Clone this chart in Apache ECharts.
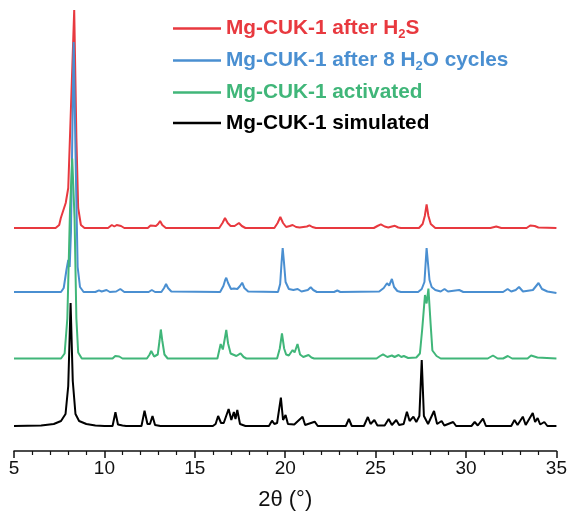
<!DOCTYPE html>
<html>
<head>
<meta charset="utf-8">
<script src="https://cdn.jsdelivr.net/npm/echarts@6/dist/echarts.min.js"></script>
<style>
  html, body { margin: 0; padding: 0; background: #fff; }
  #chart { width: 570px; height: 521px; }
</style>
</head>
<body>
<div id="chart"></div>
<script>
var redH2S = [
  [5,0],[7.3,0],[7.5,3],[7.59,10],[7.7,12],[7.86,25],[8.0,40],[8.15,120],[8.33,218],[8.45,90],[8.55,20],[8.7,3],[8.9,0],
  [10.2,0],[10.41,3],[10.55,1.5],[10.68,3],[10.79,5],[10.92,2],[11.1,0],
  [12.4,0],[12.55,2.5],[12.66,4.5],[12.85,2],[12.97,4],[13.08,7],[13.2,3],[13.4,0],
  [16.35,0],[16.53,5],[16.67,10],[16.82,5],[16.98,2],[17.2,2],[17.44,5],[17.6,2],[17.8,0],
  [19.4,0],[19.58,5],[19.73,11],[19.88,5],[20.05,1],[20.25,2],[20.41,3],[20.6,1],[20.8,0.5],[21.2,1.5],[21.34,2.7],[21.5,1],[21.7,0],
  [24.9,0],[25.1,2],[25.29,3.7],[25.5,1.5],[25.7,0.5],[25.9,1.5],[26.07,2.2],[26.25,0.5],[26.4,0],
  [27.4,0],[27.6,4],[27.72,12],[27.82,23.7],[27.92,12],[28.05,4],[28.3,0],
  [31.35,0],[31.67,1.5],[31.95,0],[33.35,0],[33.55,2.5],[33.65,3.2],[33.8,2],[34.0,0.5],[35,0]
];
var blueH2O = [
  [5,0],[7.6,0],[7.75,4],[7.9,22],[8.0,32],[8.08,25],[8.15,60],[8.3,250],[8.42,120],[8.52,25],[8.65,5],[8.85,0],
  [9.5,0],[9.7,1.7],[9.85,0.5],[10.12,2],[10.3,0],[10.65,0.5],[10.88,3],[11.1,0],
  [12.45,0],[12.62,2],[12.8,0],[13.15,0],[13.3,4],[13.41,8],[13.52,4],[13.7,0.5],
  [16.4,0],[16.58,6],[16.68,12],[16.74,14.3],[16.84,9],[17.0,3],[17.16,3.5],[17.35,3],[17.5,6],[17.62,9.3],[17.74,4],[17.95,0.5],
  [19.6,0],[19.72,8],[19.8,30],[19.86,44],[19.93,30],[20.02,10],[20.2,3],[20.45,2],[20.69,3],[20.9,0.5],[21.25,2],[21.41,4.7],[21.55,2],[21.75,0],
  [22.7,0],[22.88,1.5],[23.05,0],[25.2,0.5],[25.45,4],[25.63,8.7],[25.75,6.5],[25.9,13],[26.02,5],[26.2,1],[26.4,0],
  [27.35,0],[27.55,3],[27.7,10],[27.77,30],[27.82,44],[27.9,28],[27.98,12],[28.1,5],[28.3,2],[28.6,0.5],[28.81,3],[29.0,0.5],[29.62,2],[29.85,0],
  [32.05,0],[32.3,3],[32.5,0.5],[32.75,2],[32.93,5],[33.15,0.5],[33.7,2],[34.01,9],[34.2,3],[34.5,0.5],[35,-1]
];
var greenAct = [
  [5,0],[7.6,0],[7.8,5],[7.95,40],[8.1,150],[8.22,200],[8.35,140],[8.45,40],[8.55,6],[8.75,0],
  [10.45,0],[10.6,2.5],[10.7,4.5],[10.82,2],[11.0,0],
  [12.35,0],[12.5,4],[12.59,7.5],[12.75,2],[12.95,4],[13.05,18],[13.12,29],[13.2,18],[13.32,4],[13.5,0],
  [16.25,0],[16.43,14.5],[16.55,9],[16.66,20],[16.74,28.5],[16.84,15],[16.98,5],[17.3,2.5],[17.53,5.2],[17.7,1.5],[17.85,0],
  [19.55,0],[19.7,10],[19.82,25],[19.94,10],[20.05,4],[20.2,3],[20.41,8.5],[20.52,6],[20.68,14.5],[20.82,4],[21.0,1.5],[21.29,3.5],[21.45,1],[21.6,0],
  [25.05,0],[25.25,2.5],[25.41,4.2],[25.65,1.5],[25.9,3],[26.05,1.5],[26.27,3.5],[26.42,1.5],[26.56,2.5],[26.8,0.5],
  [27.25,1],[27.45,5],[27.58,30],[27.73,63.5],[27.82,55],[27.92,70],[28.04,35],[28.14,8],[28.37,2.5],[28.6,0],
  [31.2,0],[31.49,3],[31.75,0],[32.05,0],[32.31,2.5],[32.55,0],[33.4,0],[33.6,3],[33.69,3.5],[33.95,1],[35,0]
];
var blackSim = [
  [5,0],[6.5,0.5],[7.2,2],[7.6,5],[7.85,12],[8.0,40],[8.13,123],[8.25,45],[8.4,12],[8.6,5],[9.0,2],[9.5,0.5],[10.0,0],
  [10.45,0],[10.61,13.7],[10.75,1.5],[11.0,0.5],[11.2,0],
  [12.05,0],[12.22,15.3],[12.38,2],[12.52,2],[12.66,10],[12.8,1],[13.1,0],
  [16.0,0],[16.15,2],[16.29,10],[16.45,3],[16.6,3],[16.87,17],[17.02,6],[17.16,14],[17.25,7],[17.35,16],[17.5,2],[17.8,0],
  [19.1,0],[19.27,5.3],[19.4,2],[19.55,3],[19.76,28.3],[19.88,6],[20.02,11],[20.15,2],[20.5,1.5],[20.96,9.3],[21.1,1],[21.63,4.3],[21.8,0],
  [23.35,0],[23.52,7],[23.68,0],[24.35,0],[24.57,9],[24.72,2],[24.93,6],[25.1,0.5],[25.5,0.5],[25.72,7],[25.9,1],[26.14,6],[26.3,1],
  [26.55,2],[26.73,14.3],[26.88,5],[27.09,9.3],[27.25,4],[27.42,10],[27.55,66],[27.67,10],[27.9,2],[28.23,15],[28.4,2],[28.65,5],[28.8,0.5],[29.29,4],[29.45,0],
  [30.3,0],[30.48,4],[30.65,0.5],[30.94,7.3],[31.1,0],
  [32.5,0],[32.68,6],[32.85,1],[33.14,9.3],[33.3,1],[33.69,13],[33.82,4],[33.96,8],[34.1,1.5],[34.33,4],[34.5,0],[35,0]
];

var names = ['Mg-CUK-1 after H2S', 'Mg-CUK-1 after 8 H2O cycles', 'Mg-CUK-1 activated', 'Mg-CUK-1 simulated'];
var colors = ['#e8393f', '#4a8fd1', '#40b679', '#000000'];
var offsets = [198, 134, 67.5, 0];   // vertical stacking of the patterns
var patterns = [redH2S, blueH2O, greenAct, blackSim];
var xTicks = [5, 10, 15, 20, 25, 30, 35];

// legend texts with subscript 2
var legendText = {
  'Mg-CUK-1 after H2S': '{a|Mg-CUK-1 after H}{s|2}{a|S}',
  'Mg-CUK-1 after 8 H2O cycles': '{a|Mg-CUK-1 after 8 H}{s|2}{a|O cycles}',
  'Mg-CUK-1 activated': '{a|Mg-CUK-1 activated}',
  'Mg-CUK-1 simulated': '{a|Mg-CUK-1 simulated}'
};

var myChart = echarts.init(document.getElementById('chart'));

var series = patterns.map(function (p, i) {
  return {
    name: names[i],
    type: 'line',
    showSymbol: false,
    symbol: 'none',
    animation: false,
    data: p.map(function (d) { return [d[0], d[1] + offsets[i]]; }),
    lineStyle: { color: colors[i], width: 2 },
    itemStyle: { color: colors[i] }
  };
});

var option = {
  backgroundColor: '#fff',
  textStyle: { fontFamily: 'Liberation Sans, Arial, sans-serif' },
  grid: { left: 14, right: 11, top: 0, bottom: 70 },
  legend: {
    orient: 'vertical',
    left: 168,
    top: 13,
    icon: 'rect',
    itemWidth: 48,
    itemHeight: 2.5,
    itemGap: 9.5,
    selectedMode: false,
    formatter: function (n) { return legendText[n]; },
    data: names.map(function (n, i) {
      return {
        name: n,
        textStyle: {
          rich: {
            a: { fontSize: 20.8, fontWeight: 'bold', color: colors[i], lineHeight: 24, fontFamily: 'Liberation Sans' },
            s: { fontSize: 13, fontWeight: 'bold', color: colors[i], lineHeight: 24, verticalAlign: 'bottom', padding: [7, 0, 0, 0], fontFamily: 'Liberation Sans' }
          }
        }
      };
    })
  },
  xAxis: {
    type: 'value',
    min: xTicks[0],
    max: xTicks[xTicks.length - 1],
    interval: 5,
    name: '2θ (°)',
    nameLocation: 'middle',
    nameGap: 38,
    nameTextStyle: { fontSize: 22, color: '#111' },
    axisLine: { show: true, onZero: false, lineStyle: { color: '#111', width: 1.5 } },
    axisTick: { show: true, length: 7, lineStyle: { color: '#111', width: 1.5 } },
    minorTick: { show: true, splitNumber: 5, length: 4, lineStyle: { color: '#111', width: 1.2 } },
    axisLabel: { fontSize: 19, color: '#111', margin: 8 },
    splitLine: { show: false }
  },
  yAxis: {
    type: 'value',
    min: -25,
    max: 426,
    show: false,
    splitLine: { show: false }
  },
  series: series
};

myChart.setOption(option);
</script>
</body>
</html>
